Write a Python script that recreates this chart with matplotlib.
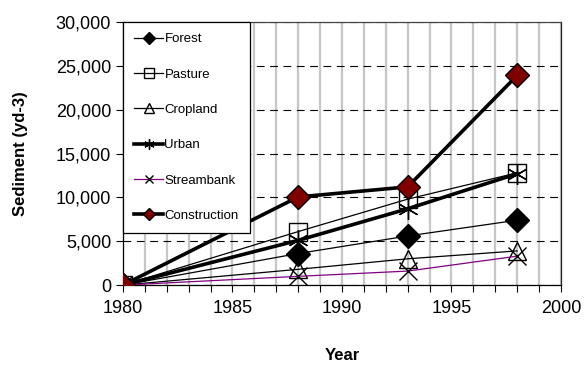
import matplotlib.pyplot as plt
from matplotlib.ticker import FuncFormatter, MultipleLocator

plt.rcParams['font.family'] = ['Liberation Sans', 'DejaVu Sans']

years = [1980, 1988, 1993, 1998]
forest = [0, 3600, 5600, 7400]
pasture = [0, 6100, 9800, 12800]
cropland = [0, 1800, 3000, 3900]
urban = [0, 5100, 8700, 12700]
streambank = [0, 1000, 1600, 3300]
construction = [0, 10050, 11200, 23900]

fig = plt.figure(figsize=(5.88, 3.66), dpi=100)
ax = fig.add_axes([0.209, 0.221, 0.745, 0.719])

ms = 13.5
ax.plot(years, forest, color="black", lw=0.9, marker="D", ms=ms * 0.9,
        mfc="black", mec="black", label="Forest", zorder=3)
ax.plot(years, pasture, color="black", lw=0.9, marker="s", ms=ms,
        mfc="none", mec="black", mew=1.0, label="Pasture", zorder=3)
ax.plot(years, cropland, color="black", lw=0.9, marker="^", ms=ms,
        mfc="none", mec="black", mew=1.0, label="Cropland", zorder=3)
ax.plot(years, urban, color="black", lw=2.6, marker=(6, 2, 0), ms=ms * 1.1,
        mec="black", mew=1.0, label="Urban", zorder=3)
ax.plot(years, streambank, color="#800080", lw=0.9, marker="x", ms=ms * 0.95,
        mec="black", mew=1.0, label="Streambank", zorder=3)
ax.plot(years, construction, color="black", lw=2.6, marker="D", ms=ms * 0.9,
        mfc="#800000", mec="black", mew=1.0, label="Construction", zorder=4)

ax.set_xlim(1980, 2000)
ax.set_ylim(0, 30000)
ax.xaxis.set_major_locator(MultipleLocator(5))
ax.xaxis.set_minor_locator(MultipleLocator(1))
ax.yaxis.set_major_locator(MultipleLocator(5000))
ax.yaxis.set_major_formatter(FuncFormatter(lambda v, p: f"{int(v):,}"))

ax.grid(axis="x", which="both", color="#c6c6c6", lw=1.6, zorder=0)
ax.grid(axis="y", which="major", color="black", lw=0.8, ls=(0, (7, 5)), zorder=0)

ax.tick_params(axis="both", which="both", direction="out", length=5,
               width=0.8, labelsize=13)
ax.tick_params(axis="x", which="major", pad=6)
for s in ax.spines.values():
    s.set_linewidth(0.9)
ax.spines["top"].set_color("#444444")
ax.spines["right"].set_color("#222222")

ax.set_xlabel("Year", fontsize=12, fontweight="bold", labelpad=22)
ax.set_ylabel("Sediment (yd-3)", fontsize=12, fontweight="bold", labelpad=20)

leg = ax.legend(loc="upper left", borderaxespad=0, fontsize=9.5,
                markerscale=0.5, handlelength=2.2, labelspacing=1.75,
                handletextpad=0.1, borderpad=0.85, fancybox=False,
                framealpha=1, edgecolor="black")
leg.get_frame().set_linewidth(0.9)
leg.set_zorder(10)

fig.savefig("out.png", dpi=100)
